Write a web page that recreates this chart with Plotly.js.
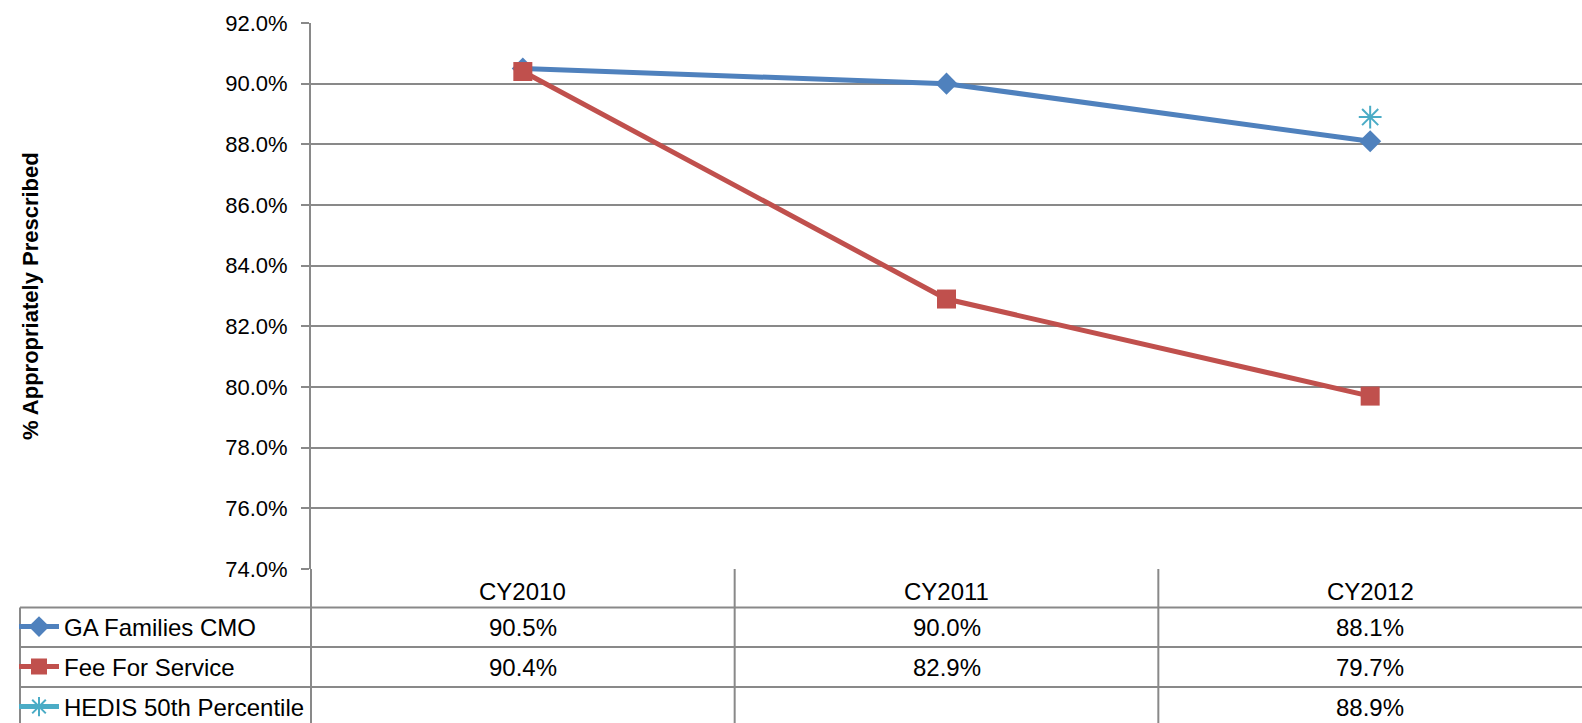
<!DOCTYPE html>
<html>
<head>
<meta charset="utf-8">
<script src="https://cdn.plot.ly/plotly-3.0.1.min.js"></script>
<style>html,body{margin:0;padding:0;background:#fff;}#chart{width:1582px;height:723px;}</style>
</head>
<body>
<div id="chart"></div>
<script>
// ---- data ----
const categories = ["CY2010", "CY2011", "CY2012"];
const seriesNames = ["GA Families CMO", "Fee For Service", "HEDIS 50th Percentile"];
const gaFamiliesCMO = [90.5, 90.0, 88.1];
const feeForService = [90.4, 82.9, 79.7];
const hedis50th = [null, null, 88.9];
const yTickValues = [74, 76, 78, 80, 82, 84, 86, 88, 90, 92];
const yTitle = "% Appropriately Prescribed";

// ---- layout helpers (pixel -> paper) ----
const W = 1582, H = 723;
const L = 311, R = 0, T = 23, B = 154;
const pw = W - L - R, ph = H - T - B;
const px = x => (x - L) / pw;
const py = y => (H - B - y) / ph;

const FONT = "Liberation Sans, Arial, sans-serif";
const GRID = "#898989";
const colors = ["#4F81BD", "#C0504D", "#4BACC6"];
const allSeries = [gaFamiliesCMO, feeForService, hedis50th];
const rowCenters = [627, 667, 707];

const traces = [
  {x: categories, y: gaFamiliesCMO, name: seriesNames[0], mode: "lines+markers",
   line: {color: colors[0], width: 5}, marker: {symbol: "diamond", size: 17, color: colors[0]}, legend: "legend"},
  {x: categories, y: feeForService, name: seriesNames[1], mode: "lines+markers",
   line: {color: colors[1], width: 5}, marker: {symbol: "square", size: 19, color: colors[1]}, legend: "legend2"},
  {x: categories, y: hedis50th, name: seriesNames[2], mode: "lines+markers",
   line: {color: colors[2], width: 5}, marker: {symbol: "asterisk-open", size: 19, color: colors[2], line: {color: colors[2], width: 2}}, legend: "legend3"}
];

const shapes = [];
const lineStyle = {color: GRID, width: 2};
// horizontal table lines
[607.5, 647, 687].forEach(y => shapes.push({type: "line", xref: "paper", yref: "paper",
  x0: px(20), x1: 1, y0: py(y), y1: py(y), line: lineStyle}));
// vertical table lines
shapes.push({type: "line", xref: "paper", yref: "paper", x0: px(20), x1: px(20), y0: py(607.5), y1: py(730), line: lineStyle});
shapes.push({type: "line", xref: "paper", yref: "paper", x0: 0, x1: 0, y0: 0, y1: py(730), line: lineStyle});
[0.5, 1.5].forEach(c => shapes.push({type: "line", xref: "x", yref: "paper",
  x0: c, x1: c, y0: 0, y1: py(730), line: lineStyle}));

const annotations = [];
// header labels
categories.forEach(c => annotations.push({xref: "x", yref: "paper", x: c, y: py(591), text: c,
  showarrow: false, xanchor: "center", yanchor: "middle", font: {family: FONT, size: 24, color: "#000"}}));
// values
allSeries.forEach((s, i) => s.forEach((v, j) => {
  if (v === null) return;
  annotations.push({xref: "x", yref: "paper", x: categories[j], y: py(rowCenters[i]), text: v.toFixed(1) + "%",
    showarrow: false, xanchor: "center", yanchor: "middle", font: {family: FONT, size: 24, color: "#000"}});
}));
// y title
annotations.push({xref: "paper", yref: "paper", x: px(30), y: py(296), text: yTitle, textangle: -90,
  showarrow: false, xanchor: "center", yanchor: "middle",
  font: {family: FONT, size: 22, color: "#000", weight: "bold"}});

const layout = {
  width: W, height: H,
  margin: {l: L, r: R, t: T, b: B, pad: 0, autoexpand: false},
  paper_bgcolor: "#fff", plot_bgcolor: "#fff",
  showlegend: true,
  xaxis: {type: "category", range: [-0.5, 2.5], showticklabels: false, showgrid: false, zeroline: false,
    showline: false, ticks: ""},
  yaxis: {range: [74, 92], tickvals: yTickValues, ticktext: yTickValues.map(v => v.toFixed(1) + "%"),
    showgrid: true, gridcolor: GRID, gridwidth: 2, zeroline: false,
    showline: true, linecolor: GRID, linewidth: 2, ticks: "outside", ticklen: 8, tickcolor: GRID, tickwidth: 2,
    ticklabelstandoff: 9,
    tickfont: {family: FONT, size: 22, color: "#000"}},
  shapes: shapes,
  annotations: annotations,
  font: {family: FONT, size: 24, color: "#000"}
};
["legend", "legend2", "legend3"].forEach((id, i) => {
  layout[id] = {x: px(14), y: py(rowCenters[i]), xanchor: "left", yanchor: "middle",
    bgcolor: "rgba(0,0,0,0)", borderwidth: 0, font: {family: FONT, size: 24, color: "#000"},
    itemwidth: 40};
});

Plotly.newPlot("chart", traces, layout, {displayModeBar: false, staticPlot: true});
</script>
</body>
</html>
